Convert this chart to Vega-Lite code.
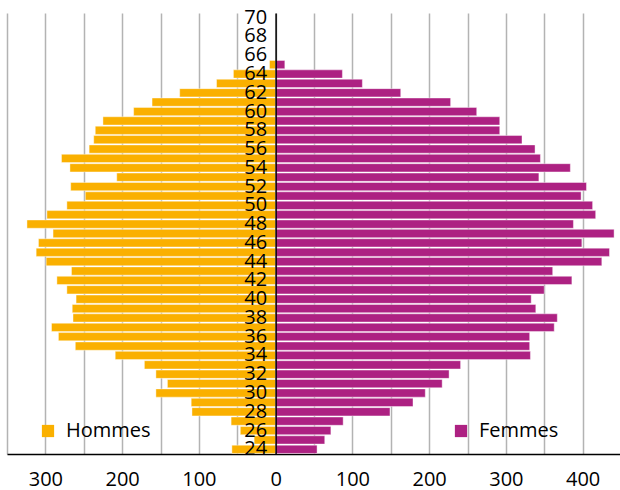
{
  "$schema": "https://vega.github.io/schema/vega-lite/v6.json",
  "width": 614,
  "height": 441,
  "autosize": "none",
  "padding": {"left": 7, "top": 13, "right": 0, "bottom": 36},
  "config": {"view": {"stroke": null}, "font": "Open Sans"},
  "datasets": {
    "pop": [
      {"age": 24, "sex": "Hommes", "count": 57}, {"age": 25, "sex": "Hommes", "count": 28},
      {"age": 26, "sex": "Hommes", "count": 46}, {"age": 27, "sex": "Hommes", "count": 58},
      {"age": 28, "sex": "Hommes", "count": 109}, {"age": 29, "sex": "Hommes", "count": 110},
      {"age": 30, "sex": "Hommes", "count": 156}, {"age": 31, "sex": "Hommes", "count": 141},
      {"age": 32, "sex": "Hommes", "count": 156}, {"age": 33, "sex": "Hommes", "count": 171},
      {"age": 34, "sex": "Hommes", "count": 209}, {"age": 35, "sex": "Hommes", "count": 261},
      {"age": 36, "sex": "Hommes", "count": 283}, {"age": 37, "sex": "Hommes", "count": 292},
      {"age": 38, "sex": "Hommes", "count": 264}, {"age": 39, "sex": "Hommes", "count": 265},
      {"age": 40, "sex": "Hommes", "count": 260}, {"age": 41, "sex": "Hommes", "count": 272},
      {"age": 42, "sex": "Hommes", "count": 285}, {"age": 43, "sex": "Hommes", "count": 266},
      {"age": 44, "sex": "Hommes", "count": 299}, {"age": 45, "sex": "Hommes", "count": 312},
      {"age": 46, "sex": "Hommes", "count": 309}, {"age": 47, "sex": "Hommes", "count": 290},
      {"age": 48, "sex": "Hommes", "count": 324}, {"age": 49, "sex": "Hommes", "count": 298},
      {"age": 50, "sex": "Hommes", "count": 272}, {"age": 51, "sex": "Hommes", "count": 248},
      {"age": 52, "sex": "Hommes", "count": 267}, {"age": 53, "sex": "Hommes", "count": 207},
      {"age": 54, "sex": "Hommes", "count": 268}, {"age": 55, "sex": "Hommes", "count": 279},
      {"age": 56, "sex": "Hommes", "count": 243}, {"age": 57, "sex": "Hommes", "count": 237},
      {"age": 58, "sex": "Hommes", "count": 235}, {"age": 59, "sex": "Hommes", "count": 225},
      {"age": 60, "sex": "Hommes", "count": 185}, {"age": 61, "sex": "Hommes", "count": 161},
      {"age": 62, "sex": "Hommes", "count": 125}, {"age": 63, "sex": "Hommes", "count": 77},
      {"age": 64, "sex": "Hommes", "count": 55}, {"age": 65, "sex": "Hommes", "count": 8},
      {"age": 24, "sex": "Femmes", "count": 54}, {"age": 25, "sex": "Femmes", "count": 64},
      {"age": 26, "sex": "Femmes", "count": 72}, {"age": 27, "sex": "Femmes", "count": 88},
      {"age": 28, "sex": "Femmes", "count": 149}, {"age": 29, "sex": "Femmes", "count": 179},
      {"age": 30, "sex": "Femmes", "count": 195}, {"age": 31, "sex": "Femmes", "count": 217},
      {"age": 32, "sex": "Femmes", "count": 226}, {"age": 33, "sex": "Femmes", "count": 241},
      {"age": 34, "sex": "Femmes", "count": 332}, {"age": 35, "sex": "Femmes", "count": 331},
      {"age": 36, "sex": "Femmes", "count": 331}, {"age": 37, "sex": "Femmes", "count": 363},
      {"age": 38, "sex": "Femmes", "count": 367}, {"age": 39, "sex": "Femmes", "count": 339},
      {"age": 40, "sex": "Femmes", "count": 333}, {"age": 41, "sex": "Femmes", "count": 350},
      {"age": 42, "sex": "Femmes", "count": 386}, {"age": 43, "sex": "Femmes", "count": 361},
      {"age": 44, "sex": "Femmes", "count": 425}, {"age": 45, "sex": "Femmes", "count": 435},
      {"age": 46, "sex": "Femmes", "count": 399}, {"age": 47, "sex": "Femmes", "count": 441},
      {"age": 48, "sex": "Femmes", "count": 388}, {"age": 49, "sex": "Femmes", "count": 417},
      {"age": 50, "sex": "Femmes", "count": 413}, {"age": 51, "sex": "Femmes", "count": 398},
      {"age": 52, "sex": "Femmes", "count": 405}, {"age": 53, "sex": "Femmes", "count": 343},
      {"age": 54, "sex": "Femmes", "count": 384}, {"age": 55, "sex": "Femmes", "count": 345},
      {"age": 56, "sex": "Femmes", "count": 338}, {"age": 57, "sex": "Femmes", "count": 321},
      {"age": 58, "sex": "Femmes", "count": 292}, {"age": 59, "sex": "Femmes", "count": 292},
      {"age": 60, "sex": "Femmes", "count": 262}, {"age": 61, "sex": "Femmes", "count": 228},
      {"age": 62, "sex": "Femmes", "count": 163}, {"age": 63, "sex": "Femmes", "count": 113},
      {"age": 64, "sex": "Femmes", "count": 87}, {"age": 65, "sex": "Femmes", "count": 12}
    ]
  },
  "data": {"name": "pop"},
  "transform": [
    {"calculate": "datum.sex === 'Hommes' ? -datum.count : datum.count", "as": "value"}
  ],
  "mark": {"type": "bar", "stroke": "white", "strokeWidth": 0.6, "strokeOpacity": 0.7},
  "encoding": {
    "y": {
      "field": "age",
      "type": "ordinal",
      "scale": {
        "domain": [70,69,68,67,66,65,64,63,62,61,60,59,58,57,56,55,54,53,52,51,50,49,48,47,46,45,44,43,42,41,40,39,38,37,36,35,34,33,32,31,30,29,28,27,26,25,24],
        "paddingInner": 0.12,
        "paddingOuter": 0.06
      },
      "axis": {
        "title": null,
        "values": [70,68,66,64,62,60,58,56,54,52,50,48,46,44,42,40,38,36,34,32,30,28,26,24],
        "offset": -268.6,
        "domain": true,
        "domainColor": "black",
        "domainWidth": 1.5,
        "ticks": false,
        "labelPadding": 9,
        "labelFontSize": 20,
        "labelColor": "black",
        "labelOverlap": false,
        "zindex": 2
      }
    },
    "x": {
      "field": "value",
      "type": "quantitative",
      "scale": {"domain": [-350, 450], "nice": false, "zero": false},
      "axis": {
        "title": null,
        "values": [-350,-300,-250,-200,-150,-100,-50,0,50,100,150,200,250,300,350,400,450],
        "labelExpr": "datum.value % 100 === 0 ? format(abs(datum.value), 'd') : ''",
        "grid": true,
        "gridColor": "#b3b3b3",
        "gridWidth": 1.5,
        "ticks": false,
        "domainColor": "black",
        "domainWidth": 1.5,
        "labelFontSize": 20,
        "labelColor": "black",
        "labelPadding": 15,
        "labelFlush": false,
        "zindex": 0
      }
    },
    "color": {
      "field": "sex",
      "type": "nominal",
      "scale": {"domain": ["Hommes", "Femmes"], "range": ["#FAB000", "#AD2182"]},
      "legend": {
        "title": null,
        "orient": "none",
        "legendX": 31,
        "legendY": 408,
        "direction": "horizontal",
        "columns": 2,
        "columnPadding": 300,
        "symbolType": "square",
        "symbolSize": 150,
        "symbolStrokeWidth": 0,
        "symbolOpacity": 1,
        "labelFontSize": 20,
        "labelOffset": 8,
        "labelColor": "black"
      }
    }
  }
}
